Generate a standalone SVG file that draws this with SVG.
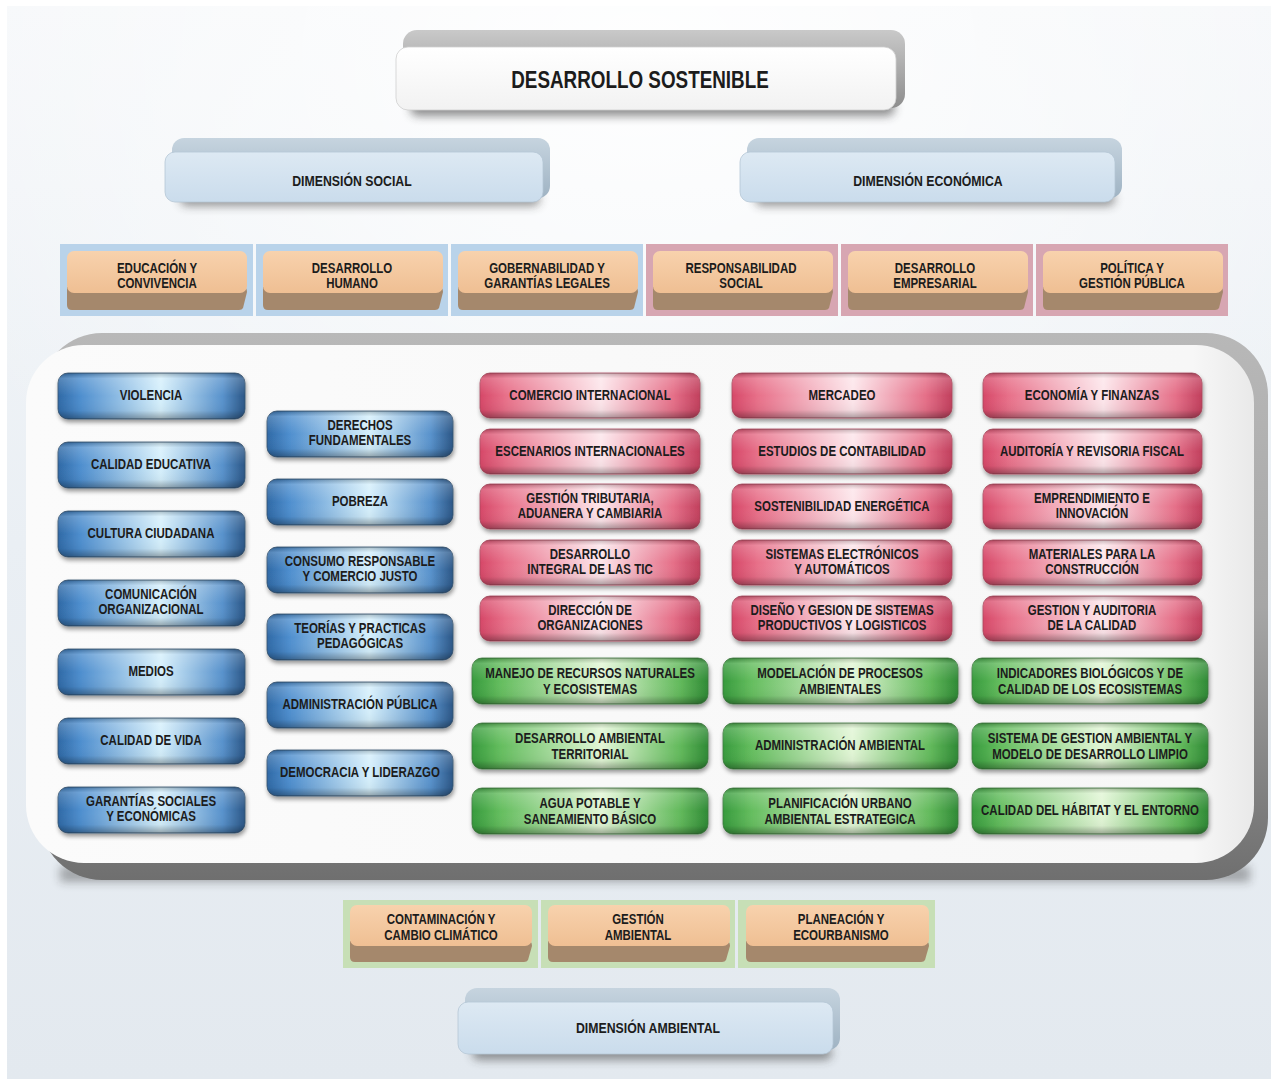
<svg xmlns="http://www.w3.org/2000/svg" width="1277" height="1084" viewBox="0 0 1277 1084">
<defs>
<style>
.t{font-family:"Liberation Sans",Arial,sans-serif;font-weight:bold;font-size:14px;fill:#1c1c1c;text-anchor:middle;transform-box:fill-box;transform-origin:center;transform:scaleX(0.82)}
.dim{font-size:15px}
.title{font-size:23px}
.pill{filter:url(#sh)}
.blue{fill:url(#gBlue);stroke:#34506c;stroke-width:0.8}
.red{fill:url(#gRed);stroke:#a8475c;stroke-width:0.8}
.green{fill:url(#gGreen);stroke:#3d7a3d;stroke-width:0.8}
.gloss{fill:url(#gGloss)}
.pblue{fill:#b9d3ea}
.ppink{fill:#d7a6b2}
.pgreen{fill:#c7dfb6}
.ofront{fill:url(#gOrange)}
.oband{fill:#a5886c}
</style>
<linearGradient id="bg" x1="0" y1="0" x2="0" y2="1">
<stop offset="0" stop-color="#f6f8fa"/>
<stop offset="0.5" stop-color="#eaeff4"/>
<stop offset="1" stop-color="#e3e9ef"/>
</linearGradient>
<radialGradient id="bgGlow" cx="0.5" cy="0.05" r="0.6">
<stop offset="0" stop-color="#ffffff" stop-opacity="0.9"/>
<stop offset="1" stop-color="#ffffff" stop-opacity="0"/>
</radialGradient>
<linearGradient id="gBlue" x1="0" y1="0" x2="1" y2="0">
<stop offset="0" stop-color="#2f69a6"/>
<stop offset="0.12" stop-color="#4e8ece"/>
<stop offset="0.55" stop-color="#d6f0fc"/>
<stop offset="0.88" stop-color="#5892cc"/>
<stop offset="1" stop-color="#2b5686"/>
</linearGradient>
<linearGradient id="gRed" x1="0" y1="0" x2="1" y2="0">
<stop offset="0" stop-color="#d64868"/>
<stop offset="0.12" stop-color="#e8718a"/>
<stop offset="0.55" stop-color="#fde6eb"/>
<stop offset="0.88" stop-color="#e56f88"/>
<stop offset="1" stop-color="#c13f5d"/>
</linearGradient>
<linearGradient id="gGreen" x1="0" y1="0" x2="1" y2="0">
<stop offset="0" stop-color="#369a3c"/>
<stop offset="0.12" stop-color="#64bd5e"/>
<stop offset="0.55" stop-color="#e2f6d6"/>
<stop offset="0.88" stop-color="#63ba5c"/>
<stop offset="1" stop-color="#2f8a35"/>
</linearGradient>
<linearGradient id="gGloss" x1="0" y1="0" x2="0" y2="1">
<stop offset="0" stop-color="#000" stop-opacity="0.22"/>
<stop offset="0.12" stop-color="#fff" stop-opacity="0.18"/>
<stop offset="0.5" stop-color="#fff" stop-opacity="0"/>
<stop offset="0.82" stop-color="#000" stop-opacity="0.04"/>
<stop offset="1" stop-color="#000" stop-opacity="0.32"/>
</linearGradient>
<linearGradient id="gOrange" x1="0" y1="0" x2="0" y2="1">
<stop offset="0" stop-color="#f8d2ad"/>
<stop offset="1" stop-color="#efbf93"/>
</linearGradient>
<linearGradient id="gTopGray" x1="0" y1="0" x2="0" y2="1">
<stop offset="0" stop-color="#c9c9c9"/>
<stop offset="1" stop-color="#8d8d8d"/>
</linearGradient>
<linearGradient id="gFrontWhite" x1="0" y1="0" x2="0" y2="1">
<stop offset="0" stop-color="#ffffff"/>
<stop offset="1" stop-color="#f2f2f2"/>
</linearGradient>
<linearGradient id="gTopBlue" x1="0" y1="0" x2="0" y2="1">
<stop offset="0" stop-color="#c6d4df"/>
<stop offset="1" stop-color="#9fb3c3"/>
</linearGradient>
<linearGradient id="gFrontBlue" x1="0" y1="0" x2="0" y2="1">
<stop offset="0" stop-color="#dde9f3"/>
<stop offset="1" stop-color="#cadcec"/>
</linearGradient>
<linearGradient id="gContEdge" x1="0" y1="0" x2="0" y2="1">
<stop offset="0" stop-color="#b8b8b8"/>
<stop offset="0.5" stop-color="#a6a6a6"/>
<stop offset="1" stop-color="#6f6f6f"/>
</linearGradient>
<linearGradient id="gContFace" x1="0" y1="0" x2="1" y2="0">
<stop offset="0" stop-color="#fbfbfb"/>
<stop offset="0.95" stop-color="#f7f7f7"/>
<stop offset="1" stop-color="#e9e9e9"/>
</linearGradient>
<filter id="sh" x="-10%" y="-30%" width="125%" height="180%">
<feDropShadow dx="1" dy="3" stdDeviation="2" flood-color="#000" flood-opacity="0.4"/>
</filter>
<filter id="blur" x="-20%" y="-100%" width="140%" height="300%">
<feGaussianBlur stdDeviation="5"/>
</filter>
</defs>

<!-- background -->
<rect x="0" y="0" width="1277" height="1084" fill="#ffffff"/>
<rect x="7" y="6" width="1264" height="1073" fill="url(#bg)"/>
<rect x="7" y="6" width="1264" height="1073" fill="url(#bgGlow)"/>

<!-- top title -->
<g id="desarrollo-sostenible">
<rect x="410" y="100" width="485" height="16" rx="8" fill="#333" opacity="0.55" filter="url(#blur)"/>
<rect x="403" y="30" width="502" height="78" rx="14" fill="url(#gTopGray)"/>
<rect x="396" y="47" width="500" height="63" rx="12" fill="url(#gFrontWhite)" stroke="#cfcfcf" stroke-width="0.8"/>
<text class="t title" x="640" y="88">DESARROLLO SOSTENIBLE</text>
</g>

<!-- dimension social -->
<g id="dimension-social">
<rect x="180" y="192" width="360" height="14" rx="7" fill="#333" opacity="0.5" filter="url(#blur)"/>
<rect x="172" y="138" width="378" height="60" rx="12" fill="url(#gTopBlue)"/>
<rect x="165" y="152" width="378" height="50" rx="10" fill="url(#gFrontBlue)" stroke="#b5c7d6" stroke-width="0.8"/>
<text class="t dim" x="352" y="186">DIMENSIÓN SOCIAL</text>
</g>

<!-- dimension economica -->
<g id="dimension-economica">
<rect x="755" y="192" width="360" height="14" rx="7" fill="#333" opacity="0.5" filter="url(#blur)"/>
<rect x="747" y="138" width="375" height="60" rx="12" fill="url(#gTopBlue)"/>
<rect x="740" y="152" width="375" height="50" rx="10" fill="url(#gFrontBlue)" stroke="#b5c7d6" stroke-width="0.8"/>
<text class="t dim" x="928" y="186">DIMENSIÓN ECONÓMICA</text>
</g>

<!-- top category row -->
<g id="cat-educacion">
<rect class="pblue" x="60" y="244" width="193" height="72"/>
<path class="oband" d="M67 287 H243 Q247 287 247 292 L243 308 Q242 310 239 310 H72 Q67 310 67 305 Z"/>
<rect class="ofront" x="67" y="251" width="180" height="42" rx="7"/>
<text class="t" x="157" y="273">EDUCACIÓN Y</text>
<text class="t" x="157" y="288">CONVIVENCIA</text>
</g>
<g id="cat-desarrollo-humano">
<rect class="pblue" x="256" y="244" width="192" height="72"/>
<path class="oband" d="M263 287 H439 Q443 287 443 292 L439 308 Q438 310 435 310 H268 Q263 310 263 305 Z"/>
<rect class="ofront" x="263" y="251" width="180" height="42" rx="7"/>
<text class="t" x="352" y="273">DESARROLLO</text>
<text class="t" x="352" y="288">HUMANO</text>
</g>
<g id="cat-gobernabilidad">
<rect class="pblue" x="451" y="244" width="192" height="72"/>
<path class="oband" d="M458 287 H634 Q638 287 638 292 L634 308 Q633 310 630 310 H463 Q458 310 458 305 Z"/>
<rect class="ofront" x="458" y="251" width="180" height="42" rx="7"/>
<text class="t" x="547" y="273">GOBERNABILIDAD Y</text>
<text class="t" x="547" y="288">GARANTÍAS LEGALES</text>
</g>
<g id="cat-responsabilidad">
<rect class="ppink" x="646" y="244" width="192" height="72"/>
<path class="oband" d="M653 287 H829 Q833 287 833 292 L829 308 Q828 310 825 310 H658 Q653 310 653 305 Z"/>
<rect class="ofront" x="653" y="251" width="180" height="42" rx="7"/>
<text class="t" x="741" y="273">RESPONSABILIDAD</text>
<text class="t" x="741" y="288">SOCIAL</text>
</g>
<g id="cat-desarrollo-empresarial">
<rect class="ppink" x="841" y="244" width="192" height="72"/>
<path class="oband" d="M848 287 H1024 Q1028 287 1028 292 L1024 308 Q1023 310 1020 310 H853 Q848 310 848 305 Z"/>
<rect class="ofront" x="848" y="251" width="180" height="42" rx="7"/>
<text class="t" x="935" y="273">DESARROLLO</text>
<text class="t" x="935" y="288">EMPRESARIAL</text>
</g>
<g id="cat-politica">
<rect class="ppink" x="1036" y="244" width="192" height="72"/>
<path class="oband" d="M1043 287 H1219 Q1223 287 1223 292 L1219 308 Q1218 310 1215 310 H1048 Q1043 310 1043 305 Z"/>
<rect class="ofront" x="1043" y="251" width="180" height="42" rx="7"/>
<text class="t" x="1132" y="273">POLÍTICA Y</text>
<text class="t" x="1132" y="288">GESTIÓN PÚBLICA</text>
</g>

<!-- main container -->
<g id="container">
<rect x="60" y="866" width="1190" height="16" fill="#222" opacity="0.35" filter="url(#blur)"/>
<rect x="40" y="333" width="1228" height="547" rx="62" fill="url(#gContEdge)"/>
<rect x="26" y="345" width="1228" height="518" rx="58" fill="url(#gContFace)"/>
</g>

<g id="connectors"/>

<!-- social column 1 -->
<g id="n-violencia"><rect class="pill blue" x="58" y="373" width="187" height="46" rx="10"/><rect class="gloss" x="58" y="373" width="187" height="46" rx="10"/><text class="t" x="151" y="400.5">VIOLENCIA</text></g>
<g id="n-calidad-educativa"><rect class="pill blue" x="58" y="442" width="187" height="46" rx="10"/><rect class="gloss" x="58" y="442" width="187" height="46" rx="10"/><text class="t" x="151" y="469.5">CALIDAD EDUCATIVA</text></g>
<g id="n-cultura-ciudadana"><rect class="pill blue" x="58" y="511" width="187" height="46" rx="10"/><rect class="gloss" x="58" y="511" width="187" height="46" rx="10"/><text class="t" x="151" y="538.5">CULTURA CIUDADANA</text></g>
<g id="n-comunicacion"><rect class="pill blue" x="58" y="580" width="187" height="46" rx="10"/><rect class="gloss" x="58" y="580" width="187" height="46" rx="10"/><text class="t" x="151" y="599.5">COMUNICACIÓN</text><text class="t" x="151" y="614.5">ORGANIZACIONAL</text></g>
<g id="n-medios"><rect class="pill blue" x="58" y="649" width="187" height="46" rx="10"/><rect class="gloss" x="58" y="649" width="187" height="46" rx="10"/><text class="t" x="151" y="676.5">MEDIOS</text></g>
<g id="n-calidad-vida"><rect class="pill blue" x="58" y="718" width="187" height="46" rx="10"/><rect class="gloss" x="58" y="718" width="187" height="46" rx="10"/><text class="t" x="151" y="745.5">CALIDAD DE VIDA</text></g>
<g id="n-garantias"><rect class="pill blue" x="58" y="787" width="187" height="46" rx="10"/><rect class="gloss" x="58" y="787" width="187" height="46" rx="10"/><text class="t" x="151" y="806.5">GARANTÍAS SOCIALES</text><text class="t" x="151" y="821.5">Y ECONÓMICAS</text></g>

<!-- social column 2 -->
<g id="n-derechos"><rect class="pill blue" x="267" y="411" width="186" height="46" rx="10"/><rect class="gloss" x="267" y="411" width="186" height="46" rx="10"/><text class="t" x="360" y="430.5">DERECHOS</text><text class="t" x="360" y="445.5">FUNDAMENTALES</text></g>
<g id="n-pobreza"><rect class="pill blue" x="267" y="479" width="186" height="46" rx="10"/><rect class="gloss" x="267" y="479" width="186" height="46" rx="10"/><text class="t" x="360" y="506.5">POBREZA</text></g>
<g id="n-consumo"><rect class="pill blue" x="267" y="547" width="186" height="46" rx="10"/><rect class="gloss" x="267" y="547" width="186" height="46" rx="10"/><text class="t" x="360" y="566.5">CONSUMO RESPONSABLE</text><text class="t" x="360" y="581.5">Y COMERCIO JUSTO</text></g>
<g id="n-teorias"><rect class="pill blue" x="267" y="614" width="186" height="46" rx="10"/><rect class="gloss" x="267" y="614" width="186" height="46" rx="10"/><text class="t" x="360" y="633.5">TEORÍAS Y PRACTICAS</text><text class="t" x="360" y="648.5">PEDAGÓGICAS</text></g>
<g id="n-admin-publica"><rect class="pill blue" x="267" y="682" width="186" height="46" rx="10"/><rect class="gloss" x="267" y="682" width="186" height="46" rx="10"/><text class="t" x="360" y="709.5">ADMINISTRACIÓN PÚBLICA</text></g>
<g id="n-democracia"><rect class="pill blue" x="267" y="750" width="186" height="46" rx="10"/><rect class="gloss" x="267" y="750" width="186" height="46" rx="10"/><text class="t" x="360" y="777.5">DEMOCRACIA Y LIDERAZGO</text></g>

<!-- economic column 1 -->
<g id="n-comercio"><rect class="pill red" x="480" y="373" width="220" height="45" rx="10"/><rect class="gloss" x="480" y="373" width="220" height="45" rx="10"/><text class="t" x="590" y="400">COMERCIO INTERNACIONAL</text></g>
<g id="n-escenarios"><rect class="pill red" x="480" y="429" width="220" height="45" rx="10"/><rect class="gloss" x="480" y="429" width="220" height="45" rx="10"/><text class="t" x="590" y="456">ESCENARIOS INTERNACIONALES</text></g>
<g id="n-gestion-tributaria"><rect class="pill red" x="480" y="484" width="220" height="45" rx="10"/><rect class="gloss" x="480" y="484" width="220" height="45" rx="10"/><text class="t" x="590" y="503">GESTIÓN TRIBUTARIA,</text><text class="t" x="590" y="518">ADUANERA Y CAMBIARIA</text></g>
<g id="n-tic"><rect class="pill red" x="480" y="540" width="220" height="45" rx="10"/><rect class="gloss" x="480" y="540" width="220" height="45" rx="10"/><text class="t" x="590" y="559">DESARROLLO</text><text class="t" x="590" y="574">INTEGRAL DE LAS TIC</text></g>
<g id="n-direccion"><rect class="pill red" x="480" y="596" width="220" height="45" rx="10"/><rect class="gloss" x="480" y="596" width="220" height="45" rx="10"/><text class="t" x="590" y="615">DIRECCIÓN DE</text><text class="t" x="590" y="630">ORGANIZACIONES</text></g>

<!-- economic column 2 -->
<g id="n-mercadeo"><rect class="pill red" x="732" y="373" width="220" height="45" rx="10"/><rect class="gloss" x="732" y="373" width="220" height="45" rx="10"/><text class="t" x="842" y="400">MERCADEO</text></g>
<g id="n-contabilidad"><rect class="pill red" x="732" y="429" width="220" height="45" rx="10"/><rect class="gloss" x="732" y="429" width="220" height="45" rx="10"/><text class="t" x="842" y="456">ESTUDIOS DE CONTABILIDAD</text></g>
<g id="n-energetica"><rect class="pill red" x="732" y="484" width="220" height="45" rx="10"/><rect class="gloss" x="732" y="484" width="220" height="45" rx="10"/><text class="t" x="842" y="511">SOSTENIBILIDAD ENERGÉTICA</text></g>
<g id="n-electronicos"><rect class="pill red" x="732" y="540" width="220" height="45" rx="10"/><rect class="gloss" x="732" y="540" width="220" height="45" rx="10"/><text class="t" x="842" y="559">SISTEMAS ELECTRÓNICOS</text><text class="t" x="842" y="574">Y AUTOMÁTICOS</text></g>
<g id="n-diseno"><rect class="pill red" x="732" y="596" width="220" height="45" rx="10"/><rect class="gloss" x="732" y="596" width="220" height="45" rx="10"/><text class="t" x="842" y="615">DISEÑO Y GESION DE SISTEMAS</text><text class="t" x="842" y="630">PRODUCTIVOS Y LOGISTICOS</text></g>

<!-- economic column 3 -->
<g id="n-economia"><rect class="pill red" x="983" y="373" width="219" height="45" rx="10"/><rect class="gloss" x="983" y="373" width="219" height="45" rx="10"/><text class="t" x="1092" y="400">ECONOMÍA Y FINANZAS</text></g>
<g id="n-auditoria"><rect class="pill red" x="983" y="429" width="219" height="45" rx="10"/><rect class="gloss" x="983" y="429" width="219" height="45" rx="10"/><text class="t" x="1092" y="456">AUDITORÍA Y REVISORIA FISCAL</text></g>
<g id="n-emprendimiento"><rect class="pill red" x="983" y="484" width="219" height="45" rx="10"/><rect class="gloss" x="983" y="484" width="219" height="45" rx="10"/><text class="t" x="1092" y="503">EMPRENDIMIENTO E</text><text class="t" x="1092" y="518">INNOVACIÓN</text></g>
<g id="n-materiales"><rect class="pill red" x="983" y="540" width="219" height="45" rx="10"/><rect class="gloss" x="983" y="540" width="219" height="45" rx="10"/><text class="t" x="1092" y="559">MATERIALES PARA LA</text><text class="t" x="1092" y="574">CONSTRUCCIÓN</text></g>
<g id="n-gestion-calidad"><rect class="pill red" x="983" y="596" width="219" height="45" rx="10"/><rect class="gloss" x="983" y="596" width="219" height="45" rx="10"/><text class="t" x="1092" y="615">GESTION Y AUDITORIA</text><text class="t" x="1092" y="630">DE LA CALIDAD</text></g>

<!-- environmental rows -->
<g id="n-manejo"><rect class="pill green" x="472" y="658" width="236" height="46" rx="10"/><rect class="gloss" x="472" y="658" width="236" height="46" rx="10"/><text class="t" x="590" y="678">MANEJO DE RECURSOS NATURALES</text><text class="t" x="590" y="694">Y ECOSISTEMAS</text></g>
<g id="n-modelacion"><rect class="pill green" x="723" y="658" width="235" height="46" rx="10"/><rect class="gloss" x="723" y="658" width="235" height="46" rx="10"/><text class="t" x="840" y="678">MODELACIÓN DE PROCESOS</text><text class="t" x="840" y="694">AMBIENTALES</text></g>
<g id="n-indicadores"><rect class="pill green" x="972" y="658" width="236" height="46" rx="10"/><rect class="gloss" x="972" y="658" width="236" height="46" rx="10"/><text class="t" x="1090" y="678">INDICADORES BIOLÓGICOS Y DE</text><text class="t" x="1090" y="694">CALIDAD DE LOS ECOSISTEMAS</text></g>
<g id="n-territorial"><rect class="pill green" x="472" y="723" width="236" height="46" rx="10"/><rect class="gloss" x="472" y="723" width="236" height="46" rx="10"/><text class="t" x="590" y="743">DESARROLLO AMBIENTAL</text><text class="t" x="590" y="759">TERRITORIAL</text></g>
<g id="n-admin-ambiental"><rect class="pill green" x="723" y="723" width="235" height="46" rx="10"/><rect class="gloss" x="723" y="723" width="235" height="46" rx="10"/><text class="t" x="840" y="750">ADMINISTRACIÓN AMBIENTAL</text></g>
<g id="n-sistema-gestion"><rect class="pill green" x="972" y="723" width="236" height="46" rx="10"/><rect class="gloss" x="972" y="723" width="236" height="46" rx="10"/><text class="t" x="1090" y="743">SISTEMA DE GESTION AMBIENTAL Y</text><text class="t" x="1090" y="759">MODELO DE DESARROLLO LIMPIO</text></g>
<g id="n-agua"><rect class="pill green" x="472" y="788" width="236" height="46" rx="10"/><rect class="gloss" x="472" y="788" width="236" height="46" rx="10"/><text class="t" x="590" y="808">AGUA POTABLE Y</text><text class="t" x="590" y="824">SANEAMIENTO BÁSICO</text></g>
<g id="n-planificacion"><rect class="pill green" x="723" y="788" width="235" height="46" rx="10"/><rect class="gloss" x="723" y="788" width="235" height="46" rx="10"/><text class="t" x="840" y="808">PLANIFICACIÓN URBANO</text><text class="t" x="840" y="824">AMBIENTAL ESTRATEGICA</text></g>
<g id="n-habitat"><rect class="pill green" x="972" y="788" width="236" height="46" rx="10"/><rect class="gloss" x="972" y="788" width="236" height="46" rx="10"/><text class="t" x="1090" y="815">CALIDAD DEL HÁBITAT Y EL ENTORNO</text></g>

<!-- bottom category row -->
<g id="cat-contaminacion">
<rect class="pgreen" x="343" y="900" width="195" height="68"/>
<path class="oband" d="M350 941 H528 Q532 941 532 946 L528 960 Q527 962 524 962 H355 Q350 962 350 957 Z"/>
<rect class="ofront" x="350" y="905" width="182" height="41" rx="7"/>
<text class="t" x="441" y="924.5">CONTAMINACIÓN Y</text>
<text class="t" x="441" y="940.5">CAMBIO CLIMÁTICO</text>
</g>
<g id="cat-gestion-ambiental">
<rect class="pgreen" x="541" y="900" width="194" height="68"/>
<path class="oband" d="M548 941 H726 Q730 941 730 946 L726 960 Q725 962 722 962 H553 Q548 962 548 957 Z"/>
<rect class="ofront" x="548" y="905" width="182" height="41" rx="7"/>
<text class="t" x="638" y="924.5">GESTIÓN</text>
<text class="t" x="638" y="940.5">AMBIENTAL</text>
</g>
<g id="cat-planeacion">
<rect class="pgreen" x="738" y="900" width="197" height="68"/>
<path class="oband" d="M746 941 H925 Q929 941 929 946 L925 960 Q924 962 921 962 H751 Q746 962 746 957 Z"/>
<rect class="ofront" x="746" y="905" width="183" height="41" rx="7"/>
<text class="t" x="841" y="924.5">PLANEACIÓN Y</text>
<text class="t" x="841" y="940.5">ECOURBANISMO</text>
</g>

<!-- dimension ambiental -->
<g id="dimension-ambiental">
<rect x="472" y="1046" width="360" height="14" rx="7" fill="#333" opacity="0.5" filter="url(#blur)"/>
<rect x="465" y="988" width="375" height="62" rx="12" fill="url(#gTopBlue)"/>
<rect x="458" y="1002" width="375" height="52" rx="10" fill="url(#gFrontBlue)" stroke="#b5c7d6" stroke-width="0.8"/>
<text class="t dim" x="648" y="1033">DIMENSIÓN AMBIENTAL</text>
</g>
</svg>
